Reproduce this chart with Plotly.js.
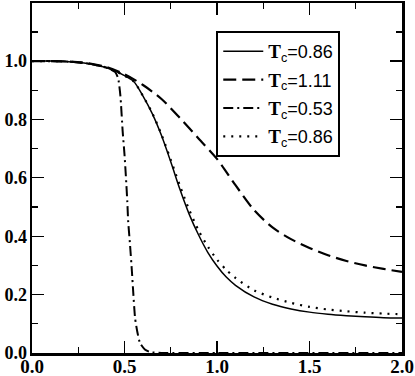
<!DOCTYPE html>
<html>
<head>
<meta charset="UTF-8">
<script src="https://cdn.plot.ly/plotly-3.0.1.min.js"></script>
<style>
  body { margin: 0; background: #fff; }
  #plot { width: 415px; height: 376px; }
</style>
</head>
<body>
<div id="plot"></div>
<script>
// curve 1: Tc = 0.86 (solid)
const xSolid = [0, 0.1, 0.2, 0.3, 0.4, 0.45, 0.5, 0.55, 0.6, 0.65, 0.7, 0.75, 0.8, 0.85, 0.9, 0.95, 1.0, 1.05, 1.1, 1.2, 1.3, 1.4, 1.5, 1.6, 1.7, 1.8, 1.9, 2.0];
const ySolid = [1.0, 1.0, 0.998, 0.992, 0.978, 0.966, 0.95, 0.93, 0.88, 0.82, 0.745, 0.655, 0.56, 0.475, 0.405, 0.345, 0.298, 0.26, 0.232, 0.192, 0.167, 0.151, 0.14, 0.133, 0.128, 0.124, 0.121, 0.12];

// curve 2: Tc = 1.11 (dashed)
const xDash = [0, 0.1, 0.2, 0.3, 0.4, 0.5, 0.6, 0.7, 0.8, 0.9, 1.0, 1.1, 1.2, 1.3, 1.4, 1.5, 1.6, 1.7, 1.8, 1.9, 2.0];
const yDash = [1.0, 1.0, 0.998, 0.993, 0.98, 0.955, 0.918, 0.87, 0.805, 0.735, 0.665, 0.575, 0.49, 0.43, 0.39, 0.36, 0.335, 0.315, 0.3, 0.288, 0.278];

// curve 3: Tc = 0.53 (dash-dot)
const xDashDot = [0, 0.1, 0.2, 0.3, 0.4, 0.45, 0.466, 0.478, 0.49, 0.5, 0.508, 0.515, 0.52, 0.53, 0.54, 0.546, 0.557, 0.57, 0.584, 0.61, 0.64, 0.7, 1.0, 2.0];
const yDashDot = [1.0, 1.0, 0.998, 0.992, 0.978, 0.962, 0.94, 0.88, 0.76, 0.68, 0.6, 0.52, 0.45, 0.37, 0.28, 0.22, 0.12, 0.07, 0.034, 0.012, 0.003, 0, 0, 0];

// curve 4: Tc = 0.86 (dotted)
const xDot = [0, 0.1, 0.2, 0.3, 0.4, 0.45, 0.5, 0.55, 0.6, 0.65, 0.7, 0.75, 0.8, 0.85, 0.9, 0.95, 1.0, 1.05, 1.1, 1.2, 1.3, 1.4, 1.5, 1.6, 1.7, 1.8, 1.9, 2.0];
const yDot = [1.0, 1.0, 0.998, 0.992, 0.978, 0.966, 0.95, 0.93, 0.88, 0.822, 0.748, 0.662, 0.572, 0.49, 0.42, 0.365, 0.32, 0.285, 0.257, 0.215, 0.19, 0.172, 0.158, 0.149, 0.143, 0.138, 0.135, 0.133];

const labels = ['0.86', '1.11', '0.53', '0.86'];

function legendName(v) {
    return '<span style="font-family:Liberation Serif;font-weight:bold;font-size:19px">T</span><sub>c</sub>=' + v;
}

const traces = [
    {x: xSolid, y: ySolid, name: legendName(labels[0]), line: {color: '#000', width: 1.5, dash: 'solid', shape: 'spline', smoothing: 0.8}},
    {x: xDash, y: yDash, name: legendName(labels[1]), line: {color: '#000', width: 2.2, dash: '13px,6px', shape: 'spline', smoothing: 0.8}},
    {x: xDashDot, y: yDashDot, name: legendName(labels[2]), line: {color: '#000', width: 2, dash: '10px,4px,2px,4px', shape: 'spline', smoothing: 0.5}},
    {x: xDot, y: yDot, name: legendName(labels[3]), line: {color: '#000', width: 2.2, dash: '2px,6px', shape: 'spline', smoothing: 0.8}}
].map((t, i) => Object.assign({type: 'scatter', mode: 'lines', legendgroup: 'g' + i}, t));

const layout = {
    width: 415, height: 376,
    margin: {l: 32, r: 13, t: 3, b: 23},
    paper_bgcolor: '#fff', plot_bgcolor: '#fff',
    font: {family: 'Liberation Serif', size: 18, color: '#000'},
    showlegend: true,
    legend: {
        x: 0.498, y: 0.92, xanchor: 'left', yanchor: 'top',
        bordercolor: '#000', borderwidth: 2, bgcolor: '#fff',
        font: {family: 'Liberation Sans', size: 18, color: '#000'},
        itemwidth: 40, tracegroupgap: 2
    },
    xaxis: {
        range: [0, 2], dtick: 0.5, tick0: 0, tickformat: '.1f',
        ticks: 'inside', ticklen: 12, tickwidth: 1.2, tickcolor: '#000',
        minor: {dtick: 0.25, ticks: 'inside', ticklen: 6, tickwidth: 1.2, tickcolor: '#000'},
        showline: true, linewidth: 2.5, linecolor: '#000', mirror: 'ticks',
        showgrid: false, zeroline: false, ticklabelstandoff: -5,
        tickfont: {family: 'Liberation Serif', size: 19, color: '#000', weight: 700}
    },
    yaxis: {
        range: [0, 1.199], dtick: 0.2, tick0: 0, tickformat: '.1f',
        ticks: 'inside', ticklen: 12, tickwidth: 1.2, tickcolor: '#000',
        minor: {dtick: 0.1, ticks: 'inside', ticklen: 6, tickwidth: 1.2, tickcolor: '#000'},
        showline: true, linewidth: 2.5, linecolor: '#000', mirror: 'ticks',
        showgrid: false, zeroline: false, ticklabelstandoff: -1,
        tickfont: {family: 'Liberation Serif', size: 18, color: '#000', weight: 700}
    }
};

Plotly.newPlot('plot', traces, layout, {staticPlot: true});
</script>
</body>
</html>
